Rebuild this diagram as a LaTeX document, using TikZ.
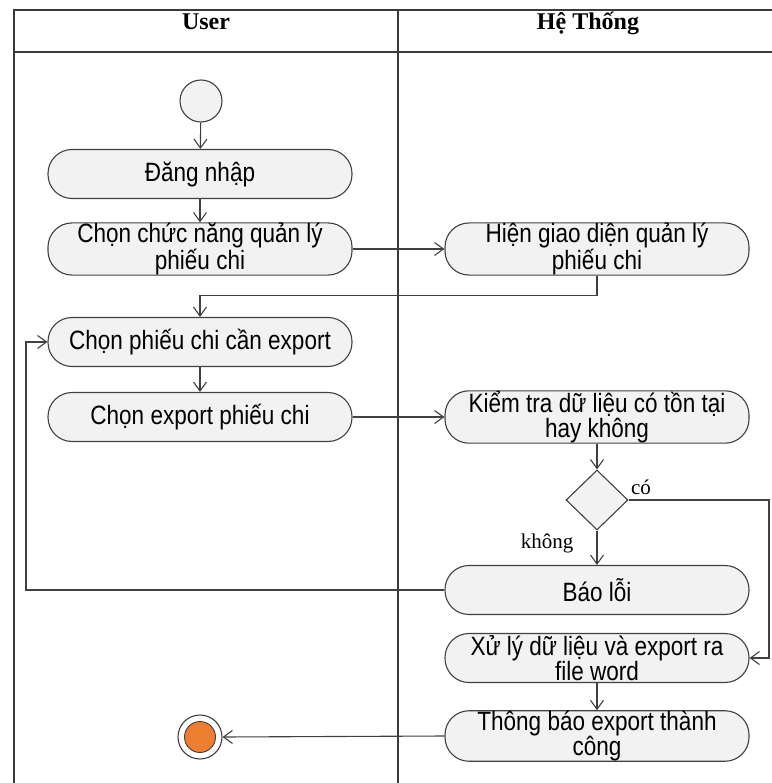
\documentclass[tikz,border=0pt]{standalone}
\usepackage{fontspec}
\setmainfont{Liberation Serif}
\newfontfamily\actfont[FakeStretch=0.85]{Liberation Sans}
\usetikzlibrary{arrows.meta,shapes.geometric}
\definecolor{lanecol}{HTML}{3A3A3A}
\definecolor{edgecol}{HTML}{404040}
\definecolor{actfill}{HTML}{F2F2F2}
\definecolor{endfill}{HTML}{ED7D31}
\tikzset{
  lane/.style={draw=lanecol, line width=1.6pt},
  act/.style={draw=edgecol, fill=actfill, line width=1.1pt, rounded corners=24pt,
    minimum width=304pt, minimum height=49pt, inner sep=0pt, align=center,
    font=\actfont\fontsize{26.5}{25.5}\selectfont},
  flow/.style={draw=edgecol, line width=1.1pt, -{Straight Barb[length=9pt,width=13pt,line width=1.1pt]}},
  guard/.style={font=\fontsize{21}{24}\selectfont, inner sep=0pt},
  hdr/.style={font=\bfseries\fontsize{24}{26}\selectfont, inner sep=0pt, anchor=base},
  decision/.style={diamond, draw=edgecol, fill=actfill, line width=1.1pt,
    minimum width=62pt, minimum height=60pt, inner sep=0pt},
  startnode/.style={circle, draw=edgecol, fill=actfill, line width=1.1pt, minimum size=42pt, inner sep=0pt},
  endring/.style={circle, draw=edgecol, fill=white, line width=1.1pt, minimum size=44pt, inner sep=0pt},
  enddot/.style={circle, draw=edgecol, fill=endfill, line width=0.9pt, minimum size=31pt, inner sep=0pt}
}
\begin{document}
\begin{tikzpicture}[x=1pt, y=-1pt]
  \useasboundingbox (0,0) rectangle (771,783);

  % swimlanes
  \draw[lane] (14,783) -- (14,10) -- (775,10);
  \draw[lane] (14,52) -- (775,52);
  \draw[lane] (398,10) -- (398,783);
  \node[hdr] (hUser) at (206,30) {User};
  \node[hdr] (hSys) at (588,30) {Hệ Thống};

  % activities
  \node[startnode] (start) at (201,101) {};
  \node[act] (dang) at (200,174) {Đăng nhập};
  \node[act] (chon1) at (200,249) {Chọn chức năng quản lý\\phiếu chi};
  \node[act] (hien) at (597,249) {Hiện giao diện quản lý\\phiếu chi};
  \node[act] (chonpc) at (200,342) {Chọn phiếu chi cần export};
  \node[act] (chonexp) at (200,417) {Chọn export phiếu chi};
  \node[act] (kiem) at (597,417) {Kiểm tra dữ liệu có tồn tại\\hay không};
  \node[decision] (dec) at (597,500) {};
  \node[act] (baoloi) at (597,590) {Báo lỗi};
  \node[act] (xuly) at (597,658) {Xử lý dữ liệu và export ra\\file word};
  \node[act] (tb) at (597,736) {Thông báo export thành\\công};
  \node[endring] (endR) at (200,737) {};
  \node[enddot] (endD) at (200,737) {};

  % route corners
  \coordinate (backL) at (26,590);
  \coordinate (yesR) at (769,500);

  % flows
  \draw[flow] (start) -- (dang);
  \draw[flow] (dang) -- (chon1);
  \draw[flow] (chon1) -- (hien);
  \draw[flow] (hien.south) -- ++(0,20) -| (chonpc.north);
  \draw[flow] (chonpc) -- (chonexp);
  \draw[flow] (chonexp) -- (kiem);
  \draw[flow] (kiem) -- (dec);
  \draw[flow] (dec) -- (baoloi);
  \draw[flow] (dec.east) -- (yesR) |- (xuly.east);
  \draw[flow] (baoloi.west) -- (backL) |- (chonpc.west);
  \draw[flow] (xuly) -- (tb);
  \draw[flow] (tb.west) -- (endR.east);

  % guards
  \node[guard] (gYes) at (641,487) {có};
  \node[guard] (gNo) at (547,543) {không};
\end{tikzpicture}
\end{document}
